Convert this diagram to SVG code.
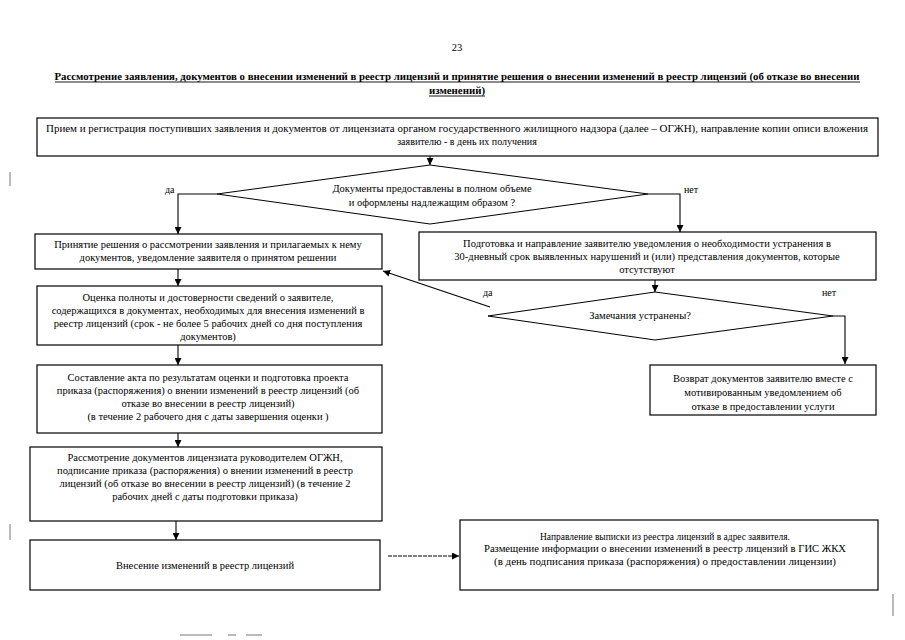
<svg xmlns="http://www.w3.org/2000/svg" width="905" height="640" viewBox="0 0 905 640">
<defs>
<style>
.box{fill:#fff;stroke:#000;stroke-width:1.2}
.dia{fill:#fff;stroke:#000;stroke-width:1}
.t{font-family:"Liberation Serif","Times New Roman",serif;font-size:10.5px;fill:#000;text-anchor:middle}
.tn{font-family:"Liberation Serif","Times New Roman",serif;font-size:10px;fill:#000;text-anchor:middle}
.lbl{font-family:"Liberation Serif","Times New Roman",serif;font-size:10px;fill:#000}
.hd{font-family:"Liberation Serif","Times New Roman",serif;font-size:11px;font-weight:bold;fill:#000;text-anchor:middle}
.c{fill:none;stroke:#000;stroke-width:1.1}
.mk{stroke:#777;stroke-width:1}
</style>
<marker id="ah" viewBox="0 0 10 10" refX="10" refY="5" markerWidth="7" markerHeight="7" orient="auto" markerUnits="userSpaceOnUse">
<path d="M0,0 L10,5 L0,10 Z" fill="#000"/>
</marker>
</defs>
<rect width="905" height="640" fill="#fff"/>

<g id="header">
<text class="t" x="457" y="51" font-size="11">23</text>
<text class="hd" x="457" y="80" textLength="805" lengthAdjust="spacingAndGlyphs">Рассмотрение заявления, документов о внесении изменений в реестр лицензий и принятие решения о внесении изменений в реестр лицензий (об отказе во внесении</text>
<line x1="55" y1="82" x2="860" y2="82" stroke="#000" stroke-width="0.9"/>
<text class="hd" x="457" y="94" textLength="56" lengthAdjust="spacingAndGlyphs">изменений)</text>
<line x1="429" y1="96" x2="485" y2="96" stroke="#000" stroke-width="0.9"/>
</g>

<g id="scan-marks">
<line class="mk" x1="10" y1="172" x2="10" y2="186"/>
<line class="mk" x1="10" y1="524" x2="10" y2="540"/>
<line class="mk" x1="893" y1="594" x2="893" y2="616"/>
<line class="mk" x1="180" y1="635" x2="212" y2="635"/>
<line class="mk" x1="228" y1="635" x2="236" y2="635"/>
<line class="mk" x1="246" y1="635" x2="262" y2="635"/>
</g>

<g id="connectors">
<line class="c" x1="430" y1="156" x2="430" y2="165" marker-end="url(#ah)"/>
<polyline class="c" points="217,194 178,194 178,234" marker-end="url(#ah)"/>
<polyline class="c" points="648,194 680,194 680,232" marker-end="url(#ah)"/>
<line class="c" x1="178" y1="269" x2="178" y2="286" marker-end="url(#ah)"/>
<line class="c" x1="655" y1="280" x2="655" y2="292" marker-end="url(#ah)"/>
<line class="c" x1="490" y1="307" x2="383" y2="271" marker-end="url(#ah)"/>
<polyline class="c" points="833,316 845,316 845,364" marker-end="url(#ah)"/>
<line class="c" x1="178" y1="345" x2="178" y2="365" marker-end="url(#ah)"/>
<line class="c" x1="178" y1="433" x2="178" y2="447" marker-end="url(#ah)"/>
<line class="c" x1="176" y1="521" x2="176" y2="540" marker-end="url(#ah)"/>
<line class="c" x1="388" y1="556" x2="459" y2="556" stroke="#333" stroke-dasharray="4,1" marker-end="url(#ah)"/>
<text class="lbl" x="165" y="193">да</text>
<text class="lbl" x="684" y="193">нет</text>
<text class="lbl" x="483" y="296">да</text>
<text class="lbl" x="822" y="296">нет</text>
</g>

<g id="n1">
<rect class="box" x="37" y="118" width="841" height="38"/>
<text class="tn" x="457" y="132" textLength="822" lengthAdjust="spacingAndGlyphs">Прием и регистрация поступивших заявления и документов от лицензиата  органом государственного жилищного надзора (далее – ОГЖН), направление копии описи вложения</text>
<text class="tn" x="467" y="145">заявителю  - в день их получения</text>
</g>

<g id="d1">
<polygon class="dia" points="430,165 648,194 430,224 217,194"/>
<text class="t" x="432" y="192">Документы предоставлены в полном объеме</text>
<text class="t" x="432" y="206">и оформлены надлежащим образом ?</text>
</g>

<g id="n2">
<rect class="box" x="35" y="234" width="347" height="35"/>
<text class="t" x="208" y="248">Принятие решения о рассмотрении заявления и прилагаемых к нему</text>
<text class="t" x="208" y="261">документов, уведомление заявителя о принятом решении</text>
</g>

<g id="n3">
<rect class="box" x="419" y="232" width="457" height="48"/>
<text class="t" x="647" y="247">Подготовка и направление заявителю уведомления о необходимости устранения в</text>
<text class="t" x="647" y="260">30-дневный срок выявленных нарушений и (или) представления документов, которые</text>
<text class="t" x="647" y="273">отсутствуют</text>
</g>

<g id="d2">
<polygon class="dia" points="655,292 833,316 655,340 488,316"/>
<text class="t" x="640" y="319">Замечания устранены?</text>
</g>

<g id="n4">
<rect class="box" x="37" y="286" width="345" height="59"/>
<text class="t" x="208" y="301">Оценка полноты и достоверности сведений  о заявителе,</text>
<text class="t" x="208" y="314">содержащихся в документах, необходимых для внесения изменений в</text>
<text class="t" x="208" y="327">реестр лицензий (срок - не более 5 рабочих дней со дня поступления</text>
<text class="t" x="208" y="340">документов)</text>
</g>

<g id="n5">
<rect class="box" x="37" y="365" width="345" height="68"/>
<text class="t" x="208" y="381">Составление акта по результатам оценки и подготовка проекта</text>
<text class="t" x="208" y="394">приказа (распоряжения) о внении изменений в реестр лицензий (об</text>
<text class="t" x="208" y="407">отказе во внесении в реестр лицензий)</text>
<text class="t" x="208" y="420">(в течение 2 рабочего дня с даты завершения оценки )</text>
</g>

<g id="n6">
<rect class="box" x="30" y="447" width="352" height="74"/>
<text class="t" x="205" y="461">Рассмотрение документов лицензиата руководителем ОГЖН,</text>
<text class="t" x="205" y="474">подписание приказа (распоряжения) о внении изменений в реестр</text>
<text class="t" x="205" y="487">лицензий (об отказе во внесении в реестр лицензий) (в течение 2</text>
<text class="t" x="205" y="500">рабочих дней с даты подготовки приказа)</text>
</g>

<g id="n7">
<rect class="box" x="30" y="540" width="350" height="50"/>
<text class="t" x="205" y="569">Внесение изменений в реестр лицензий</text>
</g>

<g id="n8">
<rect class="box" x="650" y="365" width="226" height="50"/>
<text class="t" x="763" y="382">Возврат документов заявителю вместе  с</text>
<text class="t" x="763" y="396">мотивированным уведомлением об</text>
<text class="t" x="763" y="410">отказе в предоставлении услуги</text>
</g>

<g id="n9">
<rect class="box" x="460" y="520" width="418" height="70"/>
<text class="tn" x="665" y="540" textLength="250" lengthAdjust="spacingAndGlyphs">Направление выписки из реестра лицензий в адрес заявителя.</text>
<text class="tn" x="665" y="552" textLength="362" lengthAdjust="spacingAndGlyphs">Размещение информации о внесении изменений в реестр лицензий в ГИС ЖКХ</text>
<text class="tn" x="665" y="565" textLength="342" lengthAdjust="spacingAndGlyphs">(в день подписания приказа (распоряжения) о предоставлении лицензии)</text>
</g>
</svg>
